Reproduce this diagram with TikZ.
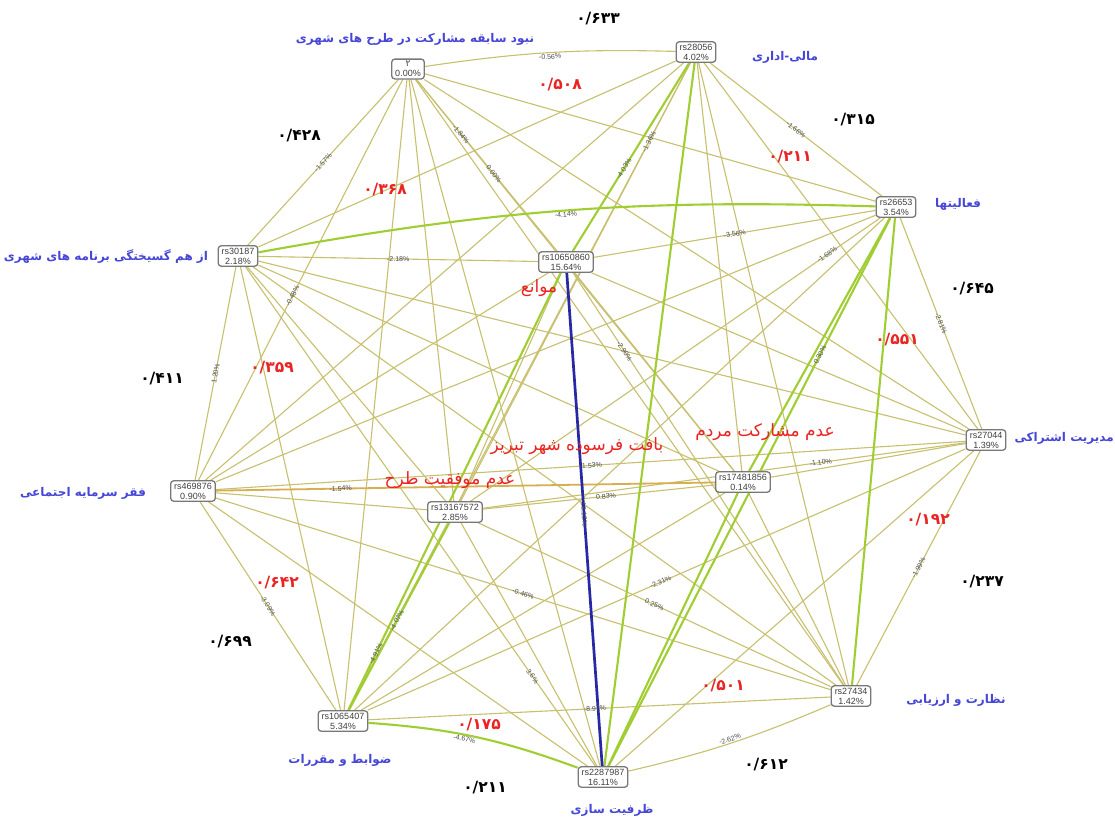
\documentclass[tikz,border=0pt]{standalone}
\usepackage{fontspec}
\setsansfont{Liberation Sans}
\newfontfamily\fa[Script=Arabic]{DejaVu Sans}
\TeXXeTstate=1
\usetikzlibrary{backgrounds}
\definecolor{edgec}{RGB}{200,192,110}
\definecolor{greenc}{RGB}{160,205,50}
\definecolor{bluec}{RGB}{40,40,165}
\definecolor{orangec}{RGB}{215,175,80}
\definecolor{lblblue}{RGB}{70,70,215}
\definecolor{lblred}{RGB}{235,35,35}
\definecolor{boxc}{RGB}{120,120,120}
\tikzset{
  gnode/.style={draw=boxc, line width=1.3pt, rounded corners=3pt, fill=white,
    inner xsep=3.5pt, inner ysep=2pt, align=center, text=black!75,
    font=\sffamily\fontsize{9}{10}\selectfont},
  thinedge/.style={edgec, line width=1.1pt},
  greenedge/.style={greenc, line width=2.1pt},
  blueedge/.style={bluec, line width=2.7pt},
  orangeedge/.style={orangec, line width=1.8pt},
  elab/.style={sloped, inner sep=0.5pt, text=black!70, font=\sffamily\fontsize{7}{7}\selectfont},
  blab/.style={text=lblblue, inner sep=0pt, font=\fa\bfseries\fontsize{12}{14}\selectfont},
  rlab/.style={text=lblred, inner sep=0pt, font=\fa\fontsize{17}{19}\selectfont},
  knum/.style={text=black, inner sep=0pt, font=\fa\bfseries\fontsize{15.5}{17}\selectfont},
  rnum/.style={text=lblred, inner sep=0pt, font=\fa\bfseries\fontsize{15.5}{17}\selectfont},
}
\begin{document}
\begin{tikzpicture}[x=1pt,y=-1pt]
\useasboundingbox (0,0) rectangle (1115,820);
% graph nodes
\node[gnode] (A) at (408,69) {{\fa ۲}\\0.00\%};
\node[gnode] (B) at (696,52) {rs28056\\4.02\%};
\node[gnode] (C) at (896,207) {rs26653\\3.54\%};
\node[gnode] (D) at (238,256) {rs30187\\2.18\%};
\node[gnode] (E) at (566,262) {rs10650860\\15.64\%};
\node[gnode] (F) at (986,440) {rs27044\\1.39\%};
\node[gnode] (G) at (193,491) {rs469876\\0.90\%};
\node[gnode] (H) at (455,512) {rs13167572\\2.85\%};
\node[gnode] (I) at (743,482) {rs17481856\\0.14\%};
\node[gnode] (J) at (851,696) {rs27434\\1.42\%};
\node[gnode] (K) at (343,721) {rs1065407\\5.34\%};
\node[gnode] (L) at (603,777) {rs2287987\\16.11\%};
% edges
\begin{scope}[on background layer]
\fill[white] (0,0) rectangle (1115,820);
\foreach \a/\bs in {A/{C,D,E,F,G,H,I,J,K,L}, B/{C,D,F,G,H,I,J,K}, C/{E,F,G,H,K},
  D/{E,F,G,H,I,J,K,L}, E/{F,G,H,I,J}, F/{G,H,I,J,K,L}, G/{H,J,K,L}, H/{I,J,L},
  I/{J,K}, J/{K}} {
  \foreach \b in \bs { \draw[thinedge] (\a) -- (\b); }
}
\draw[thinedge] (A) to[bend left=5] (B);
\draw[thinedge] (L) to[bend right=5] (J);
\draw[orangeedge] (G) -- (I);
\foreach \a/\b in {B/E, B/L, C/I, C/J, C/L, E/K, H/K, I/L} {
  \draw[greenedge] (\a) -- (\b);
}
\draw[greenedge] (D) to[bend left=6] (C);
\draw[greenedge] (K) to[bend left=8] (L);
\draw[blueedge] (E) -- (L);
% edge labels
\path (A) to[bend left=5] node[elab, pos=0.5, below=1pt] {-0.56\%} (B);
\path (D) -- node[elab, pos=0.5] {-1.57\%} (A);
\path (D) -- node[elab, pos=0.5] {-2.18\%} (E);
\path (A) -- node[elab, pos=0.55] {0.00\%} (E);
\path (A) -- node[elab, pos=0.14] {-1.84\%} (I);
\path (B) -- node[elab, pos=0.56] {-4.03\%} (E);
\path (B) -- node[elab, pos=0.18] {-1.36\%} (H);
\path (B) -- node[elab, pos=0.5] {-1.66\%} (C);
\path (C) -- node[elab, pos=0.5] {-2.81\%} (F);
\path (D) -- node[elab, pos=0.5] {1.20\%} (G);
\path (G) -- node[elab, pos=0.25] {-1.54\%} (I);
\path (G) -- node[elab, pos=0.5] {-3.09\%} (K);
\path (F) -- node[elab, pos=0.5] {-1.99\%} (J);
\path (K) to[bend left=8] node[elab, pos=0.45, below=1pt] {-4.67\%} (L);
\path (L) to[bend right=5] node[elab, pos=0.5, above=1pt] {-2.62\%} (J);
\path (E) -- node[elab, pos=0.49] {18.12\%} (L);
\path (H) -- node[elab, pos=0.53] {0.83\%} (I);
\path (K) -- node[elab, pos=0.48] {-4.07\%} (H);
\path (K) -- node[elab, pos=0.13] {-4.91\%} (E);
\path (G) -- node[elab, pos=0.5] {-1.53\%} (F);
\path (C) -- node[elab, pos=0.5] {-3.56\%} (E);
\path (D) to[bend left=6] node[elab, pos=0.5, below=1pt] {-4.14\%} (C);
\path (C) -- node[elab, pos=0.13] {-1.68\%} (H);
\path (E) -- node[elab, pos=0.19] {-2.90\%} (J);
\path (C) -- node[elab, pos=0.25] {0.30\%} (L);
\path (A) -- node[elab, pos=0.54] {-0.48\%} (G);
\path (F) -- node[elab, pos=0.3] {-1.10\%} (H);
\path (G) -- node[elab, pos=0.5] {-0.46\%} (J);
\path (D) -- node[elab, pos=0.82] {3.6\%} (L);
\path (K) -- node[elab, pos=0.49] {-2.31\%} (F);
\path (H) -- node[elab, pos=0.5] {0.25\%} (J);
\path (K) -- node[elab, pos=0.49] {-8.97\%} (J);
\end{scope}
% blue category labels
\node[blab] (t1) at (415,39) {\beginR نبود سابقه مشارکت در طرح های شهری\endR};
\node[blab] (t2) at (785,57) {\beginR مالی-اداری\endR};
\node[blab] (t3) at (958,204) {\beginR فعالیتها\endR};
\node[blab] (t4) at (106,257) {\beginR از هم گسیختگی برنامه های شهری\endR};
\node[blab, anchor=east] (t5) at (1114,438) {\beginR مدیریت اشتراکی\endR};
\node[blab] (t6) at (83,493) {\beginR فقر سرمایه اجتماعی\endR};
\node[blab] (t7) at (340,760) {\beginR ضوابط و مقررات\endR};
\node[blab] (t8) at (612,810) {\beginR ظرفیت سازی\endR};
\node[blab] (t9) at (956,700) {\beginR نظارت و ارزیابی\endR};
% red labels
\node[rlab] (r1) at (539,288) {\beginR موانع\endR};
\node[rlab] (r2) at (765,432) {\beginR عدم مشارکت مردم\endR};
\node[rlab] (r3) at (577,446) {\beginR بافت فرسوده شهر تبریز\endR};
\node[rlab] (r4) at (450,480) {\beginR عدم موفقیت طرح\endR};
% black numbers
\node[knum] (k1) at (598,19) {۰/۶۳۳};
\node[knum] (k2) at (853,120) {۰/۳۱۵};
\node[knum] (k3) at (299,136) {۰/۴۲۸};
\node[knum] (k4) at (972,289) {۰/۶۴۵};
\node[knum] (k5) at (162,379) {۰/۴۱۱};
\node[knum] (k6) at (982,582) {۰/۲۳۷};
\node[knum] (k7) at (230,642) {۰/۶۹۹};
\node[knum] (k8) at (766,765) {۰/۶۱۲};
\node[knum] (k9) at (485,788) {۰/۲۱۱};
% red numbers
\node[rnum] (q1) at (560,85) {۰/۵۰۸};
\node[rnum] (q2) at (790,157) {۰/۲۱۱};
\node[rnum] (q3) at (385,190) {۰/۳۶۸};
\node[rnum] (q4) at (897,340) {۰/۵۵۱};
\node[rnum] (q5) at (272,368) {۰/۳۵۹};
\node[rnum] (q6) at (928,520) {۰/۱۹۲};
\node[rnum] (q7) at (277,583) {۰/۶۴۲};
\node[rnum] (q8) at (723,686) {۰/۵۰۱};
\node[rnum] (q9) at (479,725) {۰/۱۷۵};
\end{tikzpicture}
\end{document}
